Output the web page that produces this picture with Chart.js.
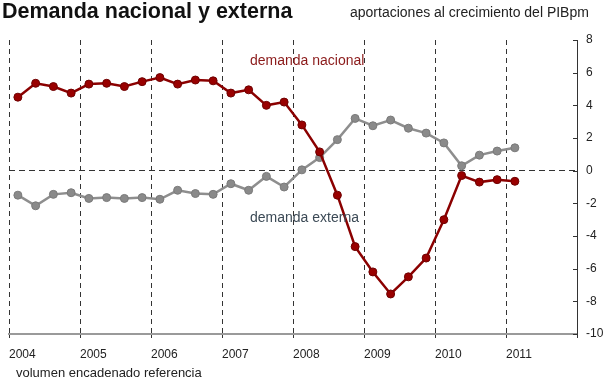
<!DOCTYPE html>
<html>
<head>
<meta charset="utf-8">
<script src="https://cdn.jsdelivr.net/npm/chart.js@4"></script>
<style>
  html, body { margin: 0; padding: 0; background: #fff; }
  #wrap { position: relative; width: 604px; height: 382px; }
</style>
</head>
<body>
<div id="wrap"><canvas id="grafica"></canvas></div>
<script>
// trimestres (I..IV) de 2004 a 2011
const trimestres = [
  '2004-1', '2004-2', '2004-3', '2004-4',
  '2005-1', '2005-2', '2005-3', '2005-4',
  '2006-1', '2006-2', '2006-3', '2006-4',
  '2007-1', '2007-2', '2007-3', '2007-4',
  '2008-1', '2008-2', '2008-3', '2008-4',
  '2009-1', '2009-2', '2009-3', '2009-4',
  '2010-1', '2010-2', '2010-3', '2010-4',
  '2011-1'
];
const demandaNacional = [
  4.5, 5.35, 5.15, 4.75,
  5.3, 5.35, 5.15, 5.45,
  5.7, 5.3, 5.55, 5.5,
  4.75, 4.95, 4.0, 4.2,
  2.8, 1.15, -1.5, -4.65,
  -6.2, -7.55, -6.5, -5.35,
  -3.0, -0.3, -0.7, -0.55,
  -0.65
];
const demandaExterna = [
  -1.5, -2.15, -1.45, -1.35,
  -1.7, -1.65, -1.7, -1.65,
  -1.75, -1.2, -1.4, -1.45,
  -0.8, -1.2, -0.35, -1.0,
  0.05, 0.8, 1.9, 3.2,
  2.75, 3.1, 2.6, 2.3,
  1.7, 0.3, 0.95, 1.2,
  1.4
];
const anios = [2004, 2005, 2006, 2007, 2008, 2009, 2010, 2011];
const ticksY = [-10, -8, -6, -4, -2, 0, 2, 4, 6, 8];

// posicion de cada trimestre en el eje de años (mitad del trimestre)
function posicion(t) {
  const partes = t.split('-');
  return Number(partes[0]) + (Number(partes[1]) - 0.5) / 4;
}
const puntosNac = trimestres.map((t, i) => ({ x: posicion(t), y: demandaNacional[i] }));
const puntosExt = trimestres.map((t, i) => ({ x: posicion(t), y: demandaExterna[i] }));

// marcas del eje derecho hacia dentro
const marcasY = {
  id: 'marcasY',
  afterDraw(chart) {
    const ctx = chart.ctx;
    const y = chart.scales.y;
    ctx.save();
    ctx.strokeStyle = '#333';
    ctx.lineWidth = 1;
    ticksY.forEach(v => {
      const py = Math.round(y.getPixelForValue(v)) + 0.5;
      ctx.beginPath();
      ctx.moveTo(y.left - 4, py);
      ctx.lineTo(y.left, py);
      ctx.stroke();
    });
    ctx.restore();
  }
};

const textos = {
  id: 'textos',
  afterDraw(chart) {
    const ctx = chart.ctx;
    ctx.save();
    ctx.textBaseline = 'alphabetic';
    ctx.textAlign = 'left';
    ctx.fillStyle = '#111';
    ctx.font = 'bold 21.5px "Liberation Sans", Arial, sans-serif';
    ctx.fillText('Demanda nacional y externa', 2, 18);
    ctx.font = '14px "Liberation Sans", Arial, sans-serif';
    ctx.fillStyle = '#222';
    ctx.fillText('aportaciones al crecimiento del PIBpm', 350, 17);
    ctx.font = '13px "Liberation Sans", Arial, sans-serif';
    ctx.fillText('volumen encadenado referencia', 16, 377);
    ctx.font = '14px "Liberation Sans", Arial, sans-serif';
    ctx.fillStyle = '#8b1a1a';
    ctx.fillText('demanda nacional', 250, 65);
    ctx.fillStyle = '#3c4a56';
    ctx.fillText('demanda externa', 250, 222);
    ctx.restore();
  }
};

const graph = document.getElementById('grafica');
const grafico = new Chart(graph, {
  type: 'line',
  data: {
    datasets: [
      {
        label: 'demanda nacional',
        data: puntosNac,
        borderColor: '#8b0000',
        backgroundColor: '#990000',
        pointBorderColor: '#6e0000',
        borderWidth: 2.5,
        pointRadius: 4,
        pointBorderWidth: 1
      },
      {
        label: 'demanda externa',
        data: puntosExt,
        borderColor: '#8e8e8e',
        backgroundColor: '#8a8a8a',
        pointBorderColor: '#7a7a7a',
        borderWidth: 2.5,
        pointRadius: 4,
        pointBorderWidth: 1
      }
    ]
  },
  options: {
    responsive: true,
    maintainAspectRatio: false,
    animation: false,
    layout: { padding: { left: 8, top: 40, right: 0, bottom: 0 } },
    plugins: {
      legend: { display: false },
      tooltip: { enabled: false }
    },
    scales: {
      x: {
        type: 'linear',
        min: anios[0],
        max: anios[anios.length - 1] + 1,
        afterBuildTicks: (scale) => {
          scale.ticks = anios.concat([anios[anios.length - 1] + 1]).map(v => ({ value: v }));
        },
        afterFit: (scale) => { scale.height = 48; },
        ticks: {
          align: 'start',
          padding: 9,
          color: '#222',
          font: { family: '"Liberation Sans", Arial, sans-serif', size: 12 },
          callback: (v) => anios.includes(v) ? String(v) : ''
        },
        grid: {
          color: '#333',
          lineWidth: 1,
          tickLength: 4,
          tickColor: '#333'
        },
        border: { color: '#9a9a9a', width: 2, dash: [5, 4] }
      },
      y: {
        position: 'right',
        min: ticksY[0],
        max: ticksY[ticksY.length - 1],
        afterBuildTicks: (scale) => {
          scale.ticks = ticksY.map(v => ({ value: v }));
        },
        afterFit: (scale) => { scale.width = 27; },
        ticks: {
          padding: 0,
          color: '#222',
          font: { family: '"Liberation Sans", Arial, sans-serif', size: 12 }
        },
        grid: {
          color: (c) => c.tick && c.tick.value === 0 ? '#333' : 'rgba(0,0,0,0)',
          lineWidth: 1,
          tickLength: 9,
          tickColor: 'rgba(0,0,0,0)'
        },
        border: { color: '#333', width: 1, dash: [6, 4] }
      }
    }
  },
  plugins: [marcasY, textos]
});
</script>
</body>
</html>
